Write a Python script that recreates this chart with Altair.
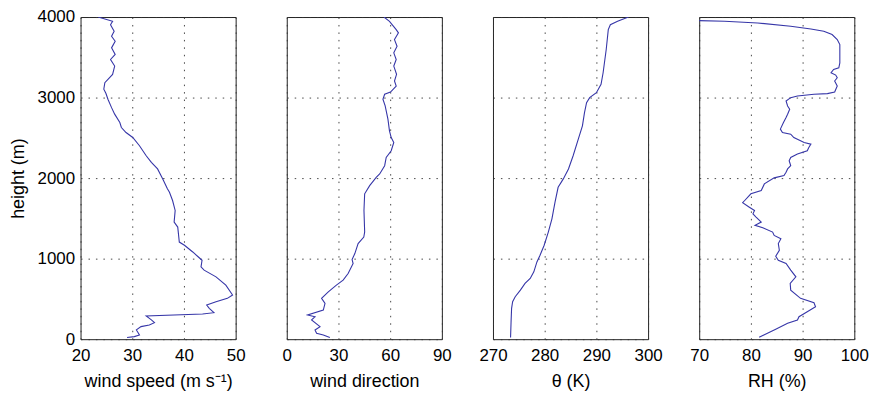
import altair as alt
import pandas as pd

# ---- data ----
ws_height = [4000, 3947, 3905, 3823, 3761, 3700, 3617, 3535, 3473, 3391, 3288, 3185, 3103, 3053,
             2979, 2875, 2794, 2690, 2628, 2566, 2504, 2402, 2278, 2195, 2114, 1990, 1867, 1825,
             1722, 1598, 1454, 1392, 1268, 1206, 1166, 1083, 1014, 980, 897, 857, 774, 671, 548,
             507, 465, 424, 383, 329, 313, 288, 239, 205, 177, 156, 115, 53, 32, 20]
ws_value = [23.4, 26.2, 25.8, 26.5, 26.0, 26.7, 26.0, 26.7, 25.8, 26.6, 26.2, 24.7, 24.5, 24.9,
            25.3, 26.0, 26.6, 27.6, 27.9, 28.8, 30.1, 31.4, 32.7, 33.7, 34.9, 35.9, 36.8, 37.2,
            37.8, 38.3, 38.1, 38.8, 39.0, 39.1, 40.1, 41.7, 42.9, 43.5, 43.3, 43.9, 46.2, 48.1, 49.4,
            48.4, 46.2, 44.4, 44.9, 45.8, 43.6, 32.7, 33.7, 34.3, 33.3, 31.7, 30.8, 31.4, 30.4, 29.0]

wd_height = [4000, 3947, 3844, 3803, 3720, 3638, 3555, 3473, 3391, 3288, 3206, 3143, 3069, 3041,
             2979, 2896, 2732, 2587, 2504, 2442, 2340, 2257, 2154, 2052, 2010, 1907, 1805, 1598,
             1330, 1268, 1187, 1063, 989, 939, 816, 733, 671, 588, 507, 445, 362, 300, 279, 239,
             156, 115, 74, 53, 20]
wd_value = [56.4, 59.6, 63.5, 64.8, 62.5, 64.0, 62.1, 63.5, 62.1, 63.7, 62.5, 63.5, 60.2, 56.8,
            55.8, 57.1, 58.7, 59.6, 60.6, 62.1, 60.6, 57.7, 56.8, 53.9, 51.9, 48.1, 45.2, 44.8,
            45.2, 44.7, 41.4, 39.5, 37.9, 38.5, 35.6, 32.7, 28.8, 24.1, 20.2, 22.2, 21.2, 12.1, 16.4, 14.4,
            19.3, 16.4, 17.3, 21.2, 25.0]

th_height = [4000, 3947, 3905, 3844, 3597, 3308, 3164, 3061, 2999, 2937, 2813, 2649, 2485, 2278,
             2114, 1990, 1886, 1701, 1495, 1330, 1166, 1042, 959, 836, 754, 692, 609, 527, 465,
             383, 218, 20]
th_value = [296.2, 294.1, 292.7, 292.3, 291.9, 291.3, 290.9, 290.0, 288.7, 288.1, 287.7, 287.3,
            286.5, 285.5, 284.6, 283.6, 282.6, 282.0, 281.4, 280.7, 279.9, 279.1, 278.5, 277.9,
            277.2, 276.2, 275.3, 274.3, 273.8, 273.6, 273.5, 273.4]

rh_height = [3971, 3947, 3926, 3885, 3852, 3823, 3782, 3720, 3658, 3431, 3370, 3349, 3308, 3279,
             3246, 3206, 3143, 3069, 3049, 3041, 3020, 2999, 2958, 2896, 2855, 2794, 2752, 2690,
             2608, 2566, 2546, 2504, 2442, 2422, 2381, 2340, 2299, 2257, 2216, 2154, 2114, 2072,
             2031, 2003, 1928, 1846, 1805, 1722, 1694, 1639, 1598, 1557, 1516, 1454, 1413, 1384,
             1330, 1289, 1248, 1187, 1104, 1030, 980, 939, 857, 774, 692, 609, 507, 452, 403,
             341, 279, 239, 198, 124, 74, 25]
rh_value = [60.0, 74.9, 81.3, 87.7, 91.6, 94.1, 95.7, 96.7, 97.2, 97.2, 97.0, 96.0, 95.5, 96.4,
            96.7, 96.2, 96.7, 96.2, 94.8, 92.2, 89.0, 87.7, 86.8, 87.1, 87.5, 87.1, 86.8, 86.3,
            85.7, 86.1, 87.7, 88.3, 90.3, 91.6, 91.2, 90.9, 89.0, 87.7, 87.4, 87.7, 87.1, 86.8,
            86.4, 84.5, 82.6, 82.0, 80.0, 78.8, 78.4, 79.7, 80.7, 80.4, 81.0, 82.0, 80.8, 82.3,
            84.2, 84.5, 85.8, 85.3, 85.5, 84.8, 85.3, 86.8, 87.7, 88.7, 87.6, 87.7, 89.6, 92.2, 92.5,
            90.9, 89.3, 89.0, 87.1, 84.8, 83.2, 81.6]

height_ticks = [0, 1000, 2000, 3000, 4000]
ws_ticks = [20, 30, 40, 50]
wd_ticks = [0, 30, 60, 90]
th_ticks = [270, 280, 290, 300]
rh_ticks = [70, 80, 90, 100]

titles = ["wind speed (m s\u207b\u00b9)", "wind direction", "\u03b8 (K)", "RH (%)"]

LINE = "#3636a8"
FONT = "Liberation Sans"
W, H = 156, 324

grid_kw = dict(grid=True, gridDash=[1.5, 6], gridColor="#333333", gridOpacity=0.9, gridWidth=1)


def panel(h, v, domain, ticks, title, first):
    df = pd.DataFrame({"h": h, "v": v})
    yaxis = alt.Axis(values=height_ticks, title="height (m)" if first else None,
                     labels=first, ticks=False, domain=False, labelPadding=6,
                     titlePadding=10, format="d", **grid_kw)
    xaxis = alt.Axis(values=ticks, title=title, ticks=False, domain=False,
                     labelPadding=8, titlePadding=10, format="d", labelFlush=False, **grid_kw)
    return alt.Chart(df).mark_line(color=LINE, strokeWidth=1.1, clip=True).encode(
        x=alt.X("v:Q", scale=alt.Scale(domain=domain, nice=False, zero=False), axis=xaxis),
        y=alt.Y("h:Q", scale=alt.Scale(domain=[0, 4000], nice=False), axis=yaxis),
        order=alt.Order("h:Q"),
    ).properties(width=W, height=H)


chart = alt.hconcat(
    panel(ws_height, ws_value, [20, 50], ws_ticks, titles[0], True),
    panel(wd_height, wd_value, [0, 90], wd_ticks, titles[1], False),
    panel(th_height, th_value, [270, 300], th_ticks, titles[2], False),
    panel(rh_height, rh_value, [70, 100], rh_ticks, titles[3], False),
    spacing=51.4,
    bounds="flush",
).properties(
    padding={"left": 8, "top": 6, "right": 5, "bottom": 0},
    background="white",
).configure_view(
    stroke="#222222", strokeWidth=1
).configure_axis(
    labelFont=FONT, titleFont=FONT, labelFontSize=17, titleFontSize=18,
    labelColor="black", titleColor="black", titleFontWeight="normal",
)

chart.save("out.html", embed_options={"renderer": "svg", "actions": False})
